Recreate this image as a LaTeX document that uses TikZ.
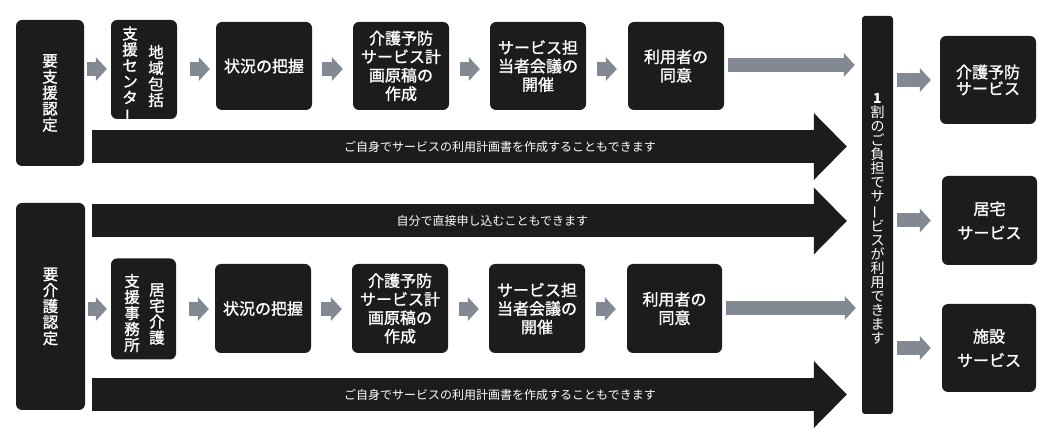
\documentclass[tikz,border=0pt]{standalone}
\usepackage{fontspec}
\usepackage{graphicx}
\setmainfont{Noto Sans CJK JP}
\newfontfamily\mfont{Noto Sans CJK JP}[FakeBold=1.3]
\usetikzlibrary{arrows.meta,calc}
\definecolor{boxc}{RGB}{28,28,28}
\definecolor{grayc}{RGB}{130,137,147}
\newcommand{\vchoon}{\rotatebox[origin=c]{90}{ー}}
\tikzset{
  box/.style={fill=boxc, rounded corners=6pt, text=white, font=\mfont\fontsize{16}{18.5}\selectfont, align=center, inner sep=0pt},
  vtext/.style={text=white, font=\mfont\fontsize{15.5}{16}\selectfont, align=center, inner sep=0pt},
  garrow/.style={draw=grayc, line width=14pt, -{Triangle[length=11pt,width=24pt,line width=0pt]}},
  barrow/.style={draw=boxc, line width=33pt, -{Triangle[length=33pt,width=67pt,line width=0pt]}},
  alabel/.style={text=white, font=\fontsize{12}{13}\selectfont, inner sep=0pt}
}
\begin{document}
\begin{tikzpicture}[x=1pt,y=-1pt]
\useasboundingbox (0,0) rectangle (1053,443);

% top row
\node[box, minimum width=68pt, minimum height=146pt, font=\mfont\fontsize{15.5}{16}\selectfont] (a0) at (50,93) {要\\支\\援\\認\\定};
\node[box, minimum width=66pt, minimum height=99pt] (a1) at (144,69.5) {};
\node[vtext] (a1r) at (156,76) {地\\域\\包\\括};
\node[vtext] (a1l) at (130,75) {支\\援\\セ\\ン\\タ\\\vchoon};
\node[box, minimum width=96pt, minimum height=88pt] (a2) at (264,66) {状況の把握};
\node[box, minimum width=96pt, minimum height=88pt] (a3) at (401,66) {介護予防\\サービス計\\画原稿の\\作成};
\node[box, minimum width=96pt, minimum height=88pt] (a4) at (538,66) {サービス担\\当者会議の\\開催};
\node[box, minimum width=96pt, minimum height=88pt] (a5) at (676,66) {利用者の\\同意};

% bottom row
\node[box, minimum width=69pt, minimum height=207pt, font=\mfont\fontsize{15.5}{16}\selectfont] (b0) at (50.5,306.5) {要\\介\\護\\認\\定};
\node[box, minimum width=65pt, minimum height=101pt] (b1) at (143.5,309) {};
\node[vtext] (b1r) at (157,314) {居\\宅\\介\\護};
\node[vtext] (b1l) at (132,313) {支\\援\\事\\務\\所};
\node[box, minimum width=96pt, minimum height=89pt] (b2) at (263,308.5) {状況の把握};
\node[box, minimum width=96pt, minimum height=89pt] (b3) at (400,308.5) {介護予防\\サービス計\\画原稿の\\作成};
\node[box, minimum width=96pt, minimum height=89pt] (b4) at (537,308.5) {サービス担\\当者会議の\\開催};
\node[box, minimum width=95pt, minimum height=89pt] (b5) at (674.5,308.5) {利用者の\\同意};

% bar
\node[fill=boxc, rounded corners=3pt, minimum width=31pt, minimum height=398pt, inner sep=0pt] (bar) at (877.5,215) {};
\node[text=white, font=\fontsize{14}{14}\selectfont, align=center, inner sep=0pt] (bart) at (877.5,219) {\textbf{1}\\割\\の\\ご\\負\\担\\で\\サ\\\vchoon\\ビ\\ス\\が\\利\\用\\で\\き\\ま\\す};

% right boxes
\node[box, minimum width=96pt, minimum height=88pt, font=\mfont\fontsize{16}{16.5}\selectfont] (r1) at (988,80) {介護予防\\サービス};
\node[box, minimum width=95pt, minimum height=89pt, font=\mfont\fontsize{16}{24}\selectfont] (r2) at (989.5,220.5) {居宅\\サービス};
\node[box, minimum width=94pt, minimum height=88pt, font=\mfont\fontsize{16}{24}\selectfont] (r3) at (989,348) {施設\\サービス};

% gray arrows top row
\coordinate (row1) at (0,69);
\coordinate (row2) at (0,309);
\draw[garrow, shorten <=3pt, shorten >=4pt] (a0.east |- row1) -- (a1.west |- row1);
\draw[garrow, shorten <=13pt, shorten >=6pt] (a1.east |- row1) -- (a2.west |- row1);
\draw[garrow, shorten <=10pt, shorten >=10pt] (a2.east |- row1) -- (a3.west |- row1);
\draw[garrow, shorten <=11pt, shorten >=10pt] (a3.east |- row1) -- (a4.west |- row1);
\draw[garrow, shorten <=11pt, shorten >=11pt] (a4.east |- row1) -- (a5.west |- row1);
\coordinate (l1) at (0,65);
\draw[garrow, shorten <=4pt, shorten >=7pt] (a5.east |- l1) -- (bar.west |- l1);

% gray arrows bottom row
\draw[garrow, shorten <=3pt, shorten >=4pt] (b0.east |- row2) -- (b1.west |- row2);
\draw[garrow, shorten <=13pt, shorten >=6pt] (b1.east |- row2) -- (b2.west |- row2);
\draw[garrow, shorten <=10pt, shorten >=10pt] (b2.east |- row2) -- (b3.west |- row2);
\draw[garrow, shorten <=11pt, shorten >=10pt] (b3.east |- row2) -- (b4.west |- row2);
\draw[garrow, shorten <=11pt, shorten >=11pt] (b4.east |- row2) -- (b5.west |- row2);
\coordinate (l2) at (0,308);
\draw[garrow, shorten <=4pt, shorten >=6pt] (b5.east |- l2) -- (bar.west |- l2);

% gray arrows to services
\draw[garrow, shorten <=4pt, shorten >=9pt] (bar.east |- r1) -- (r1.west);
\draw[garrow, shorten <=4pt, shorten >=11pt] (bar.east |- r2) -- (r2.west);
\draw[garrow, shorten <=4pt, shorten >=11pt] (bar.east |- r3) -- (r3.west);

% big black arrows
\coordinate (s1) at (92,146.5);
\coordinate (s2) at (92,221);
\coordinate (s3) at (92,394.5);
\draw[barrow, shorten >=15pt] (s1) -- (s1 -| bar.west) node[alabel, pos=0.53] {ご自身でサービスの利用計画書を作成することもできます};
\draw[barrow, shorten >=15pt] (s2) -- (s2 -| bar.west) node[alabel, pos=0.52] {自分で直接申し込むこともできます};
\draw[barrow, shorten >=15pt] (s3) -- (s3 -| bar.west) node[alabel, pos=0.53] {ご自身でサービスの利用計画書を作成することもできます};
\end{tikzpicture}
\end{document}
